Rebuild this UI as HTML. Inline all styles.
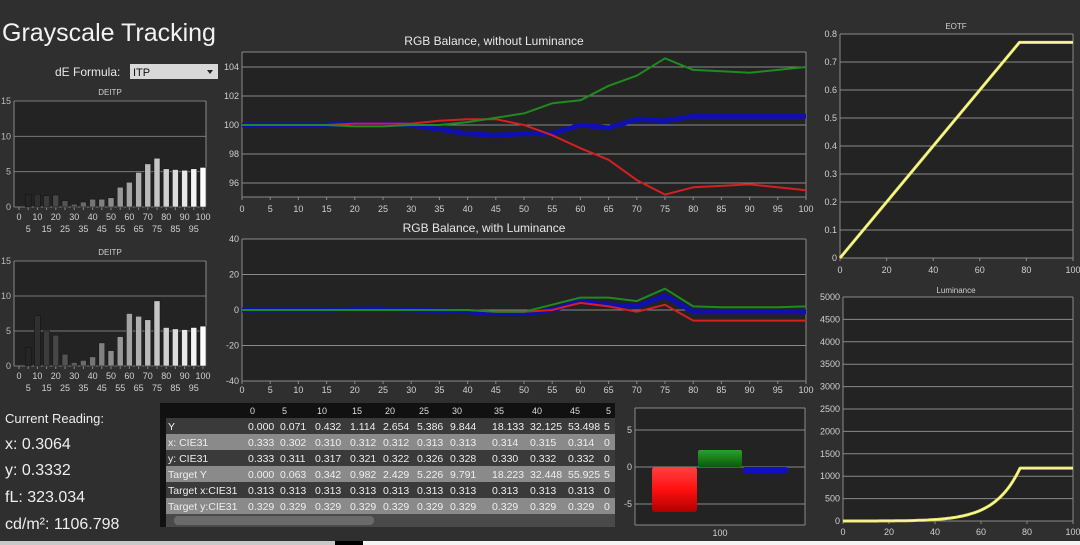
<!DOCTYPE html>
<html><head><meta charset="utf-8"><style>
body{margin:0;background:#2f2f2f;width:1080px;height:545px;overflow:hidden}
svg{display:block;font-family:"Liberation Sans",sans-serif}
</style></head><body>
<svg id="s" width="1080" height="545" xmlns="http://www.w3.org/2000/svg">
<rect width="1080" height="545" fill="#2f2f2f"/>
<text x="2" y="41" font-size="25" fill="#f2f2f2">Grayscale Tracking</text>
<text x="55" y="76" font-size="12" fill="#e8e8e8">dE Formula:</text>
<rect x="130" y="64" width="88" height="15" fill="#d8d8d8"/>
<text x="133" y="76" font-size="11" fill="#111">ITP</text>
<path d="M207 70 l6 0 l-3 4z" fill="#222"/>
<text x="5" y="423" font-size="13" fill="#eee">Current Reading:</text>
<text x="5" y="449" font-size="16" fill="#eee">x: 0.3064</text>
<text x="5" y="475" font-size="16" fill="#eee">y: 0.3332</text>
<text x="5" y="502" font-size="16" fill="#eee">fL: 323.034</text>
<text x="5" y="529" font-size="16" fill="#eee">cd/m²: 1106.798</text>
<rect x="0" y="541" width="335" height="4" fill="#c8c8c8"/>
<rect x="335" y="541" width="28" height="4" fill="#000"/>
<rect x="363" y="541" width="717" height="4" fill="#f4f4f4"/>
<g id="g"></g>
</svg>
<script>
var g=document.getElementById('g'),h='';
function T(x,y,t,s,a,c){h+='<text x="'+x+'" y="'+y+'" font-size="'+(s||10)+'" fill="'+(c||'#d0d0d0')+'" text-anchor="'+(a||'start')+'">'+t+'</text>';}
function R(x,y,w,hh,f,e){h+='<rect x="'+x+'" y="'+y+'" width="'+w+'" height="'+hh+'" fill="'+f+'" '+(e||'')+'/>';}
function L(x1,y1,x2,y2,c,w){h+='<line x1="'+x1+'" y1="'+y1+'" x2="'+x2+'" y2="'+y2+'" stroke="'+(c||'#8a8a8a')+'" stroke-width="'+(w||1)+'"/>';}
function P(pts,c,w){h+='<polyline points="'+pts.map(function(p){return p[0].toFixed(1)+','+p[1].toFixed(1)}).join(' ')+'" fill="none" stroke="'+c+'" stroke-width="'+w+'" stroke-linejoin="round"/>';}
// DEITP bar charts
function bars(top,zero,vals){
  var x0=14,x1=206,sc=(zero-top)/15;
  T(110,top-6,'DEITP',8,'middle');
  R(x0,top,x1-x0,zero-top,'#232323');
  [0,5,10,15].forEach(function(v){var y=zero-v*sc;L(x0,y,x1,y,'#7a7a7a');T(x0-3,y+3,v,9,'end','#bbb');});
  L(x0,top,x0,zero,'#888');L(x1,top,x1,zero,'#888');
  for(var i=0;i<=20;i++){var x=19+i*9.2;L(x,zero,x,zero+3,'#888');
    if(i%2==0)T(x,zero+13,i*5,9,'middle');else T(x,zero+25,i*5,9,'middle');}
  vals.forEach(function(v,k){var i=k+1,x=19+i*9.2,c=Math.round(25+i*11.5);
    R(x-3,zero-v*sc,6,v*sc,'rgb('+c+','+c+','+c+')','stroke="#111" stroke-width="0.5"');});
}
bars(101,207,[1.8,1.8,1.6,1.7,0.9,0.4,0.7,1.1,1.1,1.3,2.8,3.5,4.9,6.1,6.9,5.4,5.3,5.2,5.4,5.6]);
bars(261,366,[2.6,7.2,5,4.4,1.7,0.5,0.8,1.3,3.3,2.2,4.2,7.5,7.1,6.6,9.3,5.5,5.3,5.2,5.5,5.7]);
// RGB top
var X0=242,X1=806,st=(X1-X0)/20;
function xs(i){return X0+i*st;}
T(494,45,'RGB Balance, without Luminance',12,'middle','#e8e8e8');
R(X0,52,X1-X0,145,'#232323');
function yt(v){return 125-(v-100)*14.5;}
[96,98,100,102,104].forEach(function(v){L(X0,yt(v),X1,yt(v));T(X0-3,yt(v)+3,v,9,'end');});
L(X0,52,X0,197);L(X1,52,X1,197);L(X0,52,X1,52);L(X0,197,X1,197);
for(var i=0;i<=20;i++){L(xs(i),197,xs(i),200);T(xs(i),212,i*5,9,'middle');}
function ser(a,f){return a.map(function(v,i){return [xs(i),f(v)]});}
var Gt=[100,100,100,100,99.9,99.9,100,100,100.2,100.5,100.8,101.5,101.7,102.7,103.4,104.6,103.8,103.7,103.6,103.8,104];
var Rt=[100,100,100,100,100.1,100.1,100.1,100.3,100.4,100.4,100,99.3,98.4,97.6,96.2,95.2,95.7,95.8,95.9,95.7,95.5];
var Bt=[100,100,100,100,100.1,100.1,100,99.7,99.4,99.3,99.4,99.4,100,99.8,100.4,100.3,100.6,100.6,100.6,100.6,100.6];
P(ser(Bt,yt),'#1010b0',5);P(ser(Rt,yt),'#d42020',2);P(ser(Gt,yt),'#1f8a1f',2);
// RGB lower
T(484,232,'RGB Balance, with Luminance',12,'middle','#e8e8e8');
function yl(v){return 310-v*1.775;}
R(X0,239,X1-X0,142,'#232323');
[-40,-20,0,20,40].forEach(function(v){L(X0,yl(v),X1,yl(v));T(X0-3,yl(v)+3,v,9,'end');});
L(X0,239,X0,381);L(X1,239,X1,381);
for(var i=0;i<=20;i++){L(xs(i),381,xs(i),384);T(xs(i),393,i*5,9,'middle');}
var Gl=[0,0,0,0,0,0,0,0,0,-1,-1,3,7,7,5,12,2,1.5,1.5,1.5,2];
var Rl=[0,0,0,0,0,0,0,0,0,-1,-1,0,4,2,-1,3,-6,-6,-6,-6,-6];
var Bl=[0,0,0,0,0.5,0.5,0,-0.5,-1,-2,-2,0,5,3,2,8,-1,-1,-1,-1,-1];
P(ser(Bl,yl),'#1010b0',5);P(ser(Rl,yl),'#d42020',2);P(ser(Gl,yl),'#1f8a1f',2);
// EOTF
T(956,29,'EOTF',8,'middle');
var ex0=840,ex1=1073;
R(ex0,34,ex1-ex0,224,'#232323');
function ey(v){return 258-v*280;}
for(var k=0;k<=8;k++){var v=k/10;L(ex0,ey(v),ex1,ey(v));T(ex0-3,ey(v)+3,k==0?'0':v.toFixed(1),9,'end');}
L(ex0,34,ex0,258);L(ex1,34,ex1,258);
function ex(p){return ex0+p*(ex1-ex0)/100;}
[0,20,40,60,80,100].forEach(function(p){L(ex(p),258,ex(p),261);T(ex(p),273,p,9,'middle');});
P([[ex(0),ey(0)],[ex(77),ey(0.77)],[ex(100),ey(0.77)]],'#e8e860',3);
P([[ex(0),ey(0)],[ex(77),ey(0.77)],[ex(100),ey(0.77)]],'#fffbb0',1);
// Luminance
T(956,293,'Luminance',8,'middle');
var lx0=843;
function lx(p){return lx0+p*(ex1-lx0)/100;}
function ly(v){return 521-v*224/5000;}
R(lx0,297,ex1-lx0,224,'#232323');
for(var v=0;v<=5000;v+=500){L(lx0,ly(v),ex1,ly(v));T(lx0-3,ly(v)+3,v,9,'end');}
L(lx0,297,lx0,521);L(ex1,297,ex1,521);
[0,20,40,60,80,100].forEach(function(p){L(lx(p),521,lx(p),524);T(lx(p),535,p,9,'middle');});
function pq(e){var m1=0.1593017578125,m2=78.84375,c1=0.8359375,c2=18.8515625,c3=18.6875;var ep=Math.pow(e,1/m2);return 10000*Math.pow(Math.max(ep-c1,0)/(c2-c3*ep),1/m1);}
var lp=[];for(var p=0;p<=77;p+=1)lp.push([lx(p),ly(pq(p/100))]);lp.push([lx(100),ly(pq(0.77))]);
P(lp,'#e8e860',3);P(lp,'#fffbb0',1);
// table
var tx=160,tw=455;
R(tx,403,tw,15,'#111');
var cols=[248,280,315,350,383,417,450,492,530,568,604];
var hd=['0','5','10','15','20','25','30','35','40','45','5'];
hd.forEach(function(t,i){T(cols[i]+2,414,t,9,'start','#ddd');});
var rows=[['Y','0.000 0.071 0.432 1.114 2.654 5.386 9.844 18.133 32.125 53.498 5'],
['x: CIE31','0.333 0.302 0.310 0.312 0.312 0.313 0.313 0.314 0.315 0.314 0'],
['y: CIE31','0.333 0.311 0.317 0.321 0.322 0.326 0.328 0.330 0.332 0.332 0'],
['Target Y','0.000 0.063 0.342 0.982 2.429 5.226 9.791 18.223 32.448 55.925 5'],
['Target x:CIE31','0.313 0.313 0.313 0.313 0.313 0.313 0.313 0.313 0.313 0.313 0'],
['Target y:CIE31','0.329 0.329 0.329 0.329 0.329 0.329 0.329 0.329 0.329 0.329 0']];
rows.forEach(function(r,k){var y=418+k*16;R(tx+6,y,tw-6,16,k%2?'#8a8a8a':'#3a3a3a');
  T(tx+8,y+12,r[0],10.5,'start','#eee');
  r[1].split(' ').forEach(function(t,i){T(cols[i],y+12,t,10.5,'start','#eee');});});
R(tx+6,514,tw-6,13,'#4a4a4a');R(tx+14,516,200,9,'#6a6a6a','rx="4"');
R(tx,403,6,124,'#111');
// RGB bar
R(635,408,170,117,'#232323');
function by(v){return 467-v*7.4;}
[-5,0,5].forEach(function(v){L(635,by(v),805,by(v));T(632,by(v)+3,v,9,'end');});
L(635,408,805,408);L(635,408,635,525);L(805,408,805,525);L(635,525,805,525);
h+='<defs><linearGradient id="rg" x1="0" y1="0" x2="0" y2="1"><stop offset="0" stop-color="#ff4040"/><stop offset="0.5" stop-color="#ff1010"/><stop offset="1" stop-color="#b00000"/></linearGradient><linearGradient id="gg" x1="0" y1="0" x2="0" y2="1"><stop offset="0" stop-color="#2aa02a"/><stop offset="1" stop-color="#0a5a0a"/></linearGradient></defs>';
R(652,467,45,45,'url(#rg)','rx="3"');R(698,450,44,17,'url(#gg)','rx="2"');R(743,467,45,6,'#1010c0','rx="2"');
T(720,536,'100',9,'middle');
g.innerHTML=h;
</script>
</body></html>
